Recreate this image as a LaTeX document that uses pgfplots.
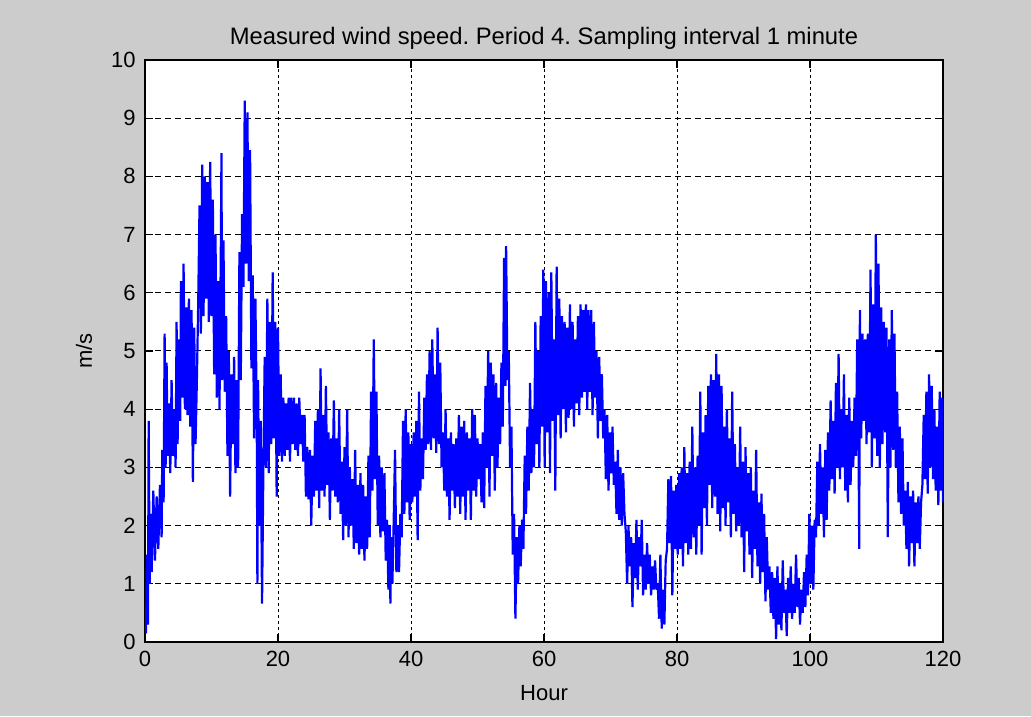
\documentclass[border=0pt]{standalone}
\usepackage{fontspec}
\setmainfont{Liberation Sans}
\usepackage{pgfplots}
\pgfplotsset{compat=1.18}
\definecolor{bggray}{RGB}{204,204,204}
\definecolor{mblue}{RGB}{0,0,255}
\begin{document}
\frenchspacing
\fontsize{10.5}{12}\selectfont
\begin{tikzpicture}
\fill[bggray] (-72.5pt,-37pt) rectangle (443pt,321pt);
\begin{axis}[
  at={(0,0)}, anchor=south west,
  scale only axis, width=399pt, height=291pt,
  xmin=0, xmax=120, ymin=0, ymax=10,
  xtick={0,20,...,120}, ytick={0,1,...,10},
  tick align=inside, major tick length=4pt,
  axis background/.style={fill=white},
  axis line style={black, line width=0.6pt},
  every tick/.style={black, line width=0.6pt},
  grid=major,
  x grid style={black, line width=0.5pt, dash pattern=on 1.5pt off 1.5pt},
  y grid style={black, line width=0.5pt, dash pattern=on 3pt off 2pt},
  /pgf/number format/assume math mode=true,
  tick label style={font=\fontsize{11}{12}\selectfont},
  xticklabel style={yshift=-1pt},
  yticklabel style={xshift=-1pt},
  title={\frenchspacing Measured wind speed. Period 4. Sampling interval 1 minute},
  title style={at={(axis description cs:0.5,1)}, anchor=south, yshift=-4.5pt, font=\fontsize{11.9}{13}\selectfont},
  xlabel={Hour},
  xlabel style={at={(axis description cs:0.5,0)}, anchor=north, yshift=-18pt, font=\fontsize{11}{12}\selectfont},
  ylabel={m/s},
  ylabel style={at={(axis description cs:-0.0764,0.5)}, anchor=center, font=\fontsize{11}{12}\selectfont},
]
\addplot[mblue, line width=1.1pt, line join=miter, miter limit=2] coordinates {
(0,0.4)(0.15,0.15)(0.3,1.5)(0.45,0.3)(0.55,3.8)(0.7,1.0)(0.85,2.2)(1.0,1.2)
(1.25,2.6)(1.5,1.4)(1.75,2.5)(2.0,1.6)(2.25,2.7)(2.5,1.8)
(2.6,3.3)(2.8,2.4)
(2.95,5.3)(3.1,3.0)(3.25,4.8)(3.4,3.2)
(3.6,4.1)(3.8,2.9)(4.0,4.5)(4.2,3.2)(4.4,4.0)(4.6,3.0)(4.75,5.5)(4.9,3.4)
(5.1,5.2)(5.3,3.8)(5.4,6.2)(5.6,4.2)(5.8,6.5)(6.0,4.0)(6.2,5.75)(6.4,3.9)
(6.6,5.9)(6.8,3.7)(7.0,5.7)(7.2,2.75)(7.4,5.4)(7.6,3.4)(7.8,4.5)
(8.0,5.8)(8.2,7.5)(8.4,5.3)(8.6,8.2)(8.8,5.6)(9.0,8.0)(9.2,5.9)(9.4,7.9)(9.6,5.5)(9.8,8.25)(10.0,5.6)(10.2,7.6)
(10.4,4.6)(10.6,7.0)(10.8,4.2)(11.0,6.2)(11.2,4.0)(11.4,6.7)(11.5,8.4)(11.6,4.5)(11.8,6.9)(12.0,4.3)
(12.2,5.6)(12.4,3.2)(12.6,5.0)(12.8,2.5)(13.0,4.6)(13.2,3.4)(13.4,4.9)(13.6,2.9)(13.8,4.5)(14.0,3.0)
(14.2,6.7)(14.4,4.5)(14.6,7.35)
(14.8,6.1)(15.0,9.3)(15.2,6.5)(15.4,9.1)(15.6,6.2)(15.8,8.45)
(16.0,4.7)(16.2,6.3)(16.4,3.5)(16.6,5.9)(16.8,4.0)
(16.9,1.0)(17.0,4.5)(17.2,2.0)(17.4,3.8)(17.6,0.66)(17.8,3.0)
(18.0,4.9)(18.2,3.0)(18.4,5.9)(18.6,2.9)(18.8,5.5)(19.0,3.4)(19.2,6.35)(19.4,3.5)
(19.6,5.5)(19.8,2.5)(20.0,5.4)(20.2,3.2)(20.4,4.6)(20.6,3.1)
(20.8,4.2)(21.0,3.2)(21.2,4.1)(21.4,3.3)(21.6,4.2)(21.8,3.1)(22.0,4.2)(22.2,3.4)(22.4,4.2)(22.6,3.3)(22.8,4.1)(23.0,3.2)(23.2,4.2)(23.4,3.4)(23.6,3.9)(23.8,3.1)(24.0,3.9)
(24.2,2.5)(24.4,3.35)(24.6,2.45)(24.8,3.3)(25.0,2.0)(25.2,3.2)(25.4,2.5)
(25.6,3.8)(25.8,2.6)(26.0,4.0)(26.2,2.3)(26.4,4.7)(26.6,2.6)(26.8,3.9)(27.0,2.5)(27.2,4.4)(27.4,2.7)
(27.6,3.6)(27.8,2.1)(28.0,3.5)(28.2,2.6)(28.4,4.15)(28.6,2.5)(28.8,3.5)(29.0,2.4)(29.2,4.0)(29.4,2.2)
(29.6,3.1)(29.8,1.75)(30.0,3.35)(30.2,2.0)(30.4,4.0)(30.6,1.8)(30.8,3.0)(31.0,2.0)
(31.2,2.8)(31.4,1.6)(31.6,3.3)(31.8,1.7)(32.0,2.7)(32.2,1.5)(32.4,2.9)(32.6,1.6)(32.8,2.7)(33.0,1.4)(33.2,2.5)(33.4,1.6)
(33.6,3.2)(33.8,1.8)(34.0,4.3)(34.2,2.6)(34.4,5.2)(34.6,2.8)
(34.8,4.3)(35.0,2.0)(35.2,3.2)(35.4,1.8)(35.6,3.0)(35.8,1.9)(36.0,2.9)
(36.2,1.4)(36.4,2.1)(36.6,0.9)(36.8,2.0)(36.9,0.66)(37.0,1.8)(37.2,1.0)(37.4,2.1)(37.6,3.3)(37.8,1.2)(38.0,2.0)(38.2,1.2)(38.4,2.2)
(38.6,1.8)(38.8,3.8)(39.0,2.2)(39.2,4.0)(39.4,2.4)(39.6,3.6)(39.8,2.1)(40.0,3.4)
(40.2,2.4)(40.4,3.6)(40.6,2.5)(40.8,3.8)(41.0,1.75)(41.2,4.3)(41.4,2.6)(41.6,3.5)(41.8,2.8)
(42.0,4.2)(42.2,3.3)(42.4,4.6)(42.6,3.4)(42.8,5.0)(43.0,3.3)(43.2,5.2)(43.4,3.5)(43.6,4.6)(43.8,3.25)(44.0,5.4)(44.2,3.4)(44.4,4.8)(44.6,3.0)
(44.8,3.6)(45.0,2.6)(45.2,4.0)(45.4,2.5)(45.6,3.5)(45.8,2.1)(46.0,3.6)(46.2,2.6)(46.4,3.4)(46.6,2.3)(46.8,3.5)(47.0,2.5)
(47.2,3.9)(47.4,2.2)(47.6,3.7)(47.8,2.5)(48.0,3.8)(48.2,2.1)(48.4,3.6)(48.6,2.6)(48.8,3.5)(49.0,2.1)(49.2,4.0)(49.4,2.6)(49.6,3.9)(49.8,2.5)(50.0,3.5)(50.2,2.8)(50.4,3.4)(50.6,2.4)(50.8,3.6)(51.0,2.3)
(51.2,4.4)(51.4,3.0)(51.6,5.0)(51.8,2.5)(52.0,4.8)(52.2,3.2)(52.4,4.6)(52.6,2.6)(52.8,4.45)(53.0,3.0)(53.2,4.2)(53.4,3.4)
(53.6,4.8)(53.8,3.7)(54.0,6.6)(54.2,4.4)(54.3,6.8)(54.5,4.5)
(54.7,5.0)(54.9,3.0)(55.1,3.7)(55.3,1.5)(55.5,2.2)(55.7,0.4)
(55.9,1.8)(56.1,1.0)(56.3,2.0)(56.5,1.3)(56.7,2.1)
(56.9,1.6)(57.1,3.2)(57.3,2.2)(57.5,3.7)(57.7,2.6)(57.9,4.45)(58.1,2.9)(58.3,4.0)(58.5,3.0)
(58.7,5.5)(58.9,3.4)(59.1,5.0)(59.3,3.0)(59.5,5.6)(59.7,3.7)(59.9,6.4)(60.1,3.0)(60.3,6.2)(60.5,3.6)(60.7,6.0)(60.9,2.9)
(61.1,6.35)(61.3,3.8)(61.5,5.2)(61.7,2.6)(61.9,6.45)(62.1,3.9)
(62.3,5.9)(62.5,3.5)(62.7,5.6)(62.9,4.0)(63.1,5.5)(63.3,3.6)(63.5,5.4)(63.7,3.85)(63.9,5.8)(64.1,4.0)(64.3,5.5)(64.5,3.7)
(64.7,5.2)(64.9,4.1)(65.1,5.6)(65.3,3.9)(65.5,5.8)(65.7,4.2)(65.9,5.7)(66.1,4.3)(66.3,5.8)(66.5,4.0)(66.7,5.7)(66.9,4.3)(67.1,5.7)(67.3,3.9)(67.5,5.5)(67.7,4.2)
(67.9,5.0)(68.1,3.5)(68.3,4.9)(68.5,3.8)(68.7,4.6)(68.9,3.5)
(69.1,4.0)(69.3,2.8)(69.5,3.9)(69.7,2.6)(69.9,3.6)(70.1,2.9)(70.3,3.7)(70.5,2.7)
(70.7,3.1)(70.9,2.2)(71.1,3.3)(71.3,2.1)(71.5,3.0)(71.7,2.0)(71.9,2.9)(72.1,2.2)
(72.3,1.9)(72.5,1.0)(72.7,2.0)(72.9,1.3)(73.1,1.8)(73.3,0.6)(73.5,1.7)(73.7,1.1)(73.9,2.1)(74.1,0.9)(74.3,1.8)(74.5,1.3)
(74.7,2.1)(74.9,0.8)(75.1,1.5)(75.3,0.9)(75.5,1.7)(75.7,1.0)(75.9,1.5)(76.1,0.8)(76.3,1.3)(76.5,0.9)(76.7,1.4)(76.9,0.9)
(77.1,1.0)(77.3,0.4)(77.5,1.5)(77.7,0.23)(77.9,0.9)(78.1,0.3)(78.3,1.4)
(78.5,1.6)(78.7,2.8)(78.9,1.7)(79.1,2.85)(79.3,0.8)(79.5,2.6)(79.7,1.6)(79.9,2.7)(80.1,1.5)
(80.3,2.9)(80.5,1.6)(80.7,3.0)(80.9,1.3)(81.1,3.35)(81.3,1.7)(81.5,2.9)(81.7,1.5)(81.9,3.1)(82.1,1.6)(82.3,3.7)(82.5,1.8)(82.7,3.0)(82.9,1.5)
(83.1,3.2)(83.3,2.0)(83.5,4.3)(83.7,1.5)(83.9,3.6)(84.1,2.3)(84.3,3.9)(84.5,2.0)
(84.7,4.4)(84.9,2.7)(85.1,4.6)(85.3,2.3)(85.5,4.5)(85.7,2.5)(85.9,4.95)(86.1,2.2)(86.3,4.6)(86.5,1.9)(86.7,4.4)
(86.9,2.3)(87.1,3.7)(87.3,2.0)(87.5,4.0)(87.7,2.4)(87.9,3.5)(88.1,1.8)(88.3,4.3)(88.5,2.2)(88.7,3.4)(88.9,1.9)
(89.1,3.0)(89.3,2.0)(89.5,3.7)(89.7,1.8)(89.9,3.1)(90.1,1.2)(90.3,3.35)(90.5,1.9)(90.7,2.9)(90.9,1.5)(91.1,3.0)(91.3,1.1)(91.5,2.6)
(91.7,1.6)(91.9,3.3)(92.1,1.3)(92.3,2.4)(92.5,1.0)(92.7,2.55)(92.9,1.2)(93.1,2.2)(93.3,0.7)(93.5,1.8)
(93.7,0.9)(93.9,1.3)(94.1,0.5)(94.3,1.2)(94.5,0.4)(94.7,1.1)(94.9,0.05)(95.1,1.3)(95.3,0.3)(95.5,1.0)
(95.7,0.2)(95.9,1.4)(96.1,0.5)(96.3,0.9)(96.5,0.1)(96.7,1.1)(96.9,0.5)(97.1,1.3)(97.3,0.4)(97.5,1.0)
(97.7,0.5)(97.9,1.5)(98.1,0.6)(98.3,1.1)(98.5,0.3)(98.7,0.9)(98.9,0.5)(99.1,1.2)(99.3,0.6)(99.5,1.5)
(99.7,0.8)(99.9,2.2)(100.1,1.0)(100.3,2.0)(100.5,0.9)(100.7,2.1)
(100.9,1.8)(101.1,3.1)(101.3,2.0)(101.5,3.4)(101.7,2.2)(101.9,3.0)(102.1,1.8)(102.3,3.3)(102.5,2.1)
(102.7,3.6)(102.9,2.6)(103.1,4.15)(103.3,2.8)(103.5,3.8)(103.7,2.55)(103.9,4.45)(104.1,3.0)(104.3,4.95)(104.5,2.8)
(104.7,4.0)(104.9,3.0)(105.1,4.6)(105.3,2.6)(105.5,3.9)(105.7,2.4)(105.9,4.2)(106.1,2.7)(106.3,3.8)(106.5,3.0)(106.7,4.2)
(106.9,3.2)(107.1,5.2)(107.3,3.4)(107.4,1.6)(107.5,5.7)(107.7,3.5)(107.9,5.3)(108.1,3.8)(108.3,5.2)(108.5,3.4)(108.7,5.3)(108.9,3.6)
(109.1,6.4)(109.3,3.0)(109.5,5.8)(109.7,3.5)(109.9,7.0)(110.1,3.2)(110.3,6.5)(110.5,3.0)
(110.7,5.75)(110.9,3.4)(111.1,5.5)(111.3,3.6)(111.5,5.4)(111.7,1.8)(111.9,5.2)(112.1,3.0)(112.3,5.7)(112.5,3.3)(112.7,5.3)(112.9,3.0)
(113.1,4.3)(113.3,2.4)(113.5,3.7)(113.7,2.2)(113.9,3.5)(114.1,2.0)
(114.3,2.6)(114.5,1.6)(114.7,2.75)(114.9,1.3)(115.1,2.5)(115.3,1.7)(115.5,2.6)(115.7,1.3)(115.9,2.4)(116.1,1.7)(116.3,2.5)(116.5,1.6)(116.7,2.4)
(116.9,2.7)(117.1,3.9)(117.3,2.8)(117.5,4.3)(117.7,2.55)(117.9,4.6)(118.1,3.0)(118.3,4.4)(118.5,2.8)
(118.7,4.0)(118.9,2.6)(119.1,3.7)(119.3,2.35)(119.5,4.3)(119.7,2.6)(119.9,4.2)(120.0,2.4)
};
\end{axis}
\end{tikzpicture}
\end{document}
